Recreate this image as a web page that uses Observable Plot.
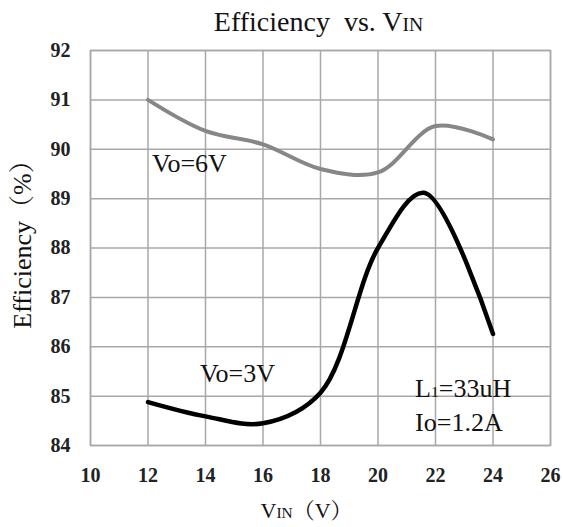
<!DOCTYPE html>
<html>
<head>
<meta charset="utf-8">
<script src="https://cdn.jsdelivr.net/npm/d3@7"></script>
<script src="https://cdn.jsdelivr.net/npm/@observablehq/plot@0.6"></script>
<style>
  body { margin: 0; background: #fff; }
  #chart svg { display: block; }
</style>
</head>
<body>
<div id="chart"></div>
<script>
// ---- data ----
const vin6 = [12, 14, 16, 18, 20, 22, 24];
const eff6V = [91.0, 90.37, 90.1, 89.6, 89.53, 90.47, 90.2];
const vin3 = [12, 14, 16, 18, 20, 21.6, 24];
const eff3V = [84.88, 84.59, 84.45, 85.07, 88.0, 89.12, 86.26];
const xTicks = [10, 12, 14, 16, 18, 20, 22, 24, 26];
const yTicks = [84, 85, 86, 87, 88, 89, 90, 91, 92];
const seriesNames = ["Vo=6V", "Vo=3V"];

const rows6 = vin6.map((v, i) => ({vin: v, eff: eff6V[i]}));
const rows3 = vin3.map((v, i) => ({vin: v, eff: eff3V[i]}));

const serif = "'Liberation Serif', 'Noto Serif CJK SC', 'Noto Sans CJK SC', serif";
const tickFont = "'Liberation Serif', serif";
const gridColor = "#a8a8a8";

const plot = Plot.plot({
  width: 563,
  height: 527,
  marginTop: 50,
  marginBottom: 82,
  marginLeft: 90,
  marginRight: 13,
  style: {fontFamily: tickFont, fontSize: "20px", color: "#222", background: "#fff"},
  x: {domain: [10, 26]},
  y: {domain: [84, 92]},
  marks: [
    Plot.gridX(xTicks, {stroke: gridColor, strokeOpacity: 1, strokeWidth: 1.5}),
    Plot.gridY(yTicks, {stroke: gridColor, strokeOpacity: 1, strokeWidth: 1.5}),
    Plot.frame({stroke: gridColor, strokeWidth: 1.5}),
    Plot.axisX(xTicks, {tickSize: 0, tickPadding: 22, label: null, fill: "#222",
        fontFamily: tickFont, fontSize: 20, fontWeight: "bold"}),
    Plot.axisY(yTicks, {tickSize: 0, tickPadding: 20, label: null, fill: "#222",
        fontFamily: tickFont, fontSize: 20, fontWeight: "bold"}),
    Plot.line(rows6, {x: "vin", y: "eff", curve: "catmull-rom", stroke: "#878787", strokeWidth: 4}),
    Plot.line(rows3, {x: "vin", y: "eff", curve: "catmull-rom", stroke: "#000", strokeWidth: 4.5}),
    Plot.text([
      {t: seriesNames[0], x: 12.14, y: 89.71},
      {t: seriesNames[1], x: 13.81, y: 85.46},
      {t: "L1=33uH", x: 21.29, y: 85.15},
      {t: "Io=1.2A", x: 21.29, y: 84.47}
    ], {x: "x", y: "y", text: "t", textAnchor: "start", lineAnchor: "middle",
        fontFamily: serif, fontSize: 26, fill: "#111", className: "annot"}),
    Plot.text(["Efficiency  vs. VIN"], {frameAnchor: "top", textAnchor: "middle", dx: -2, dy: -28, lineAnchor: "middle",
        fontFamily: serif, fontSize: 28, fill: "#111", className: "ttl"}),
    Plot.text(["VIN（V）"], {frameAnchor: "bottom", textAnchor: "middle", dx: -14, dy: 65, lineAnchor: "middle",
        fontFamily: serif, fontSize: 22, fill: "#111", className: "xlab"}),
    Plot.text(["Efficiency（%）"], {frameAnchor: "left", textAnchor: "middle", dx: -68, dy: -10, rotate: -90, lineAnchor: "middle",
        fontFamily: serif, fontSize: 26, fill: "#111", className: "ylab"})
  ]
});

// small-caps style subscripts
function splitSmall(sel, before, small, scale) {
  sel.each(function() {
    const t = d3.select(this);
    const full = t.text();
    const pos = full.indexOf(before + small);
    if (pos < 0) return;
    const idx = pos + before.length;
    t.text(null);
    t.append("tspan").text(full.slice(0, idx));
    t.append("tspan").attr("font-size", scale).text(small);
    t.append("tspan").text(full.slice(idx + small.length));
  });
}
const svg = d3.select(plot);
splitSmall(svg.selectAll(".ttl text"), "V", "IN", "0.7em");
splitSmall(svg.selectAll(".xlab text"), "V", "IN", "0.7em");
splitSmall(svg.selectAll(".annot text"), "L", "1", "0.6em");

document.getElementById("chart").appendChild(plot);
</script>
</body>
</html>
